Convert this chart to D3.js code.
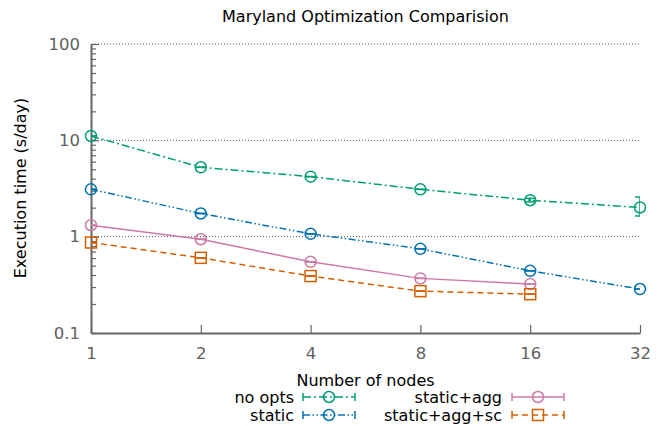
<!DOCTYPE html>
<html>
<head>
<meta charset="utf-8">
<script src="https://cdn.jsdelivr.net/npm/d3@7"></script>
<style>
  body { margin: 0; background: #fff; }
  svg { font-family: "DejaVu Sans", sans-serif; }
</style>
</head>
<body>
<div id="chart"></div>
<script>
// Data (execution time in s/day vs number of nodes)
const nodes = [1, 2, 4, 8, 16, 32];
const noOpts = [11.1, 5.25, 4.2, 3.1, 2.39, 2.01];
const noOptsLo = [11.1, 5.25, 4.2, 3.1, 2.3, 1.64];
const noOptsHi = [11.1, 5.25, 4.2, 3.1, 2.5, 2.58];
const staticOnly = [3.1, 1.74, 1.07, 0.748, 0.442, 0.286];
const staticAgg = [1.315, 0.94, 0.548, 0.369, 0.322];
const staticAggSc = [0.87, 0.603, 0.39, 0.272, 0.253];
const seriesNames = ["no opts", "static", "static+agg", "static+agg+sc"];
const yTicks = [0.1, 1, 10, 100];
const gridTicks = [1, 10, 100];

const W = 665, H = 426;
const margin = {top: 44, right: 25, bottom: 93, left: 91};

const svg = d3.select("#chart")
    .append("svg")
    .attr("width", W)
    .attr("height", H);

const x = d3.scaleLog().base(2)
    .domain([1, 32])
    .range([margin.left, W - margin.right]);
const y = d3.scaleLog()
    .domain([0.1, 100])
    .range([H - margin.bottom, margin.top]);

// series table built from the arrays
const series = [
  {name: seriesNames[0], vals: noOpts, lo: noOptsLo, hi: noOptsHi, color: "#009e73", dash: "8,3,2,3", mark: "circle"},
  {name: seriesNames[1], vals: staticOnly, lo: staticOnly, hi: staticOnly, color: "#0072b2", dash: "7,2.5,1.5,2.5,1.5,2.5", mark: "circle"},
  {name: seriesNames[2], vals: staticAgg, lo: staticAgg, hi: staticAgg, color: "#cc79a7", dash: null, mark: "circle"},
  {name: seriesNames[3], vals: staticAggSc, lo: staticAggSc, hi: staticAggSc, color: "#d55e00", dash: "6,4", mark: "square"}
];
series.forEach(s => {
  s.points = s.vals.map((v, i) => ({n: nodes[i], v: v, lo: s.lo[i], hi: s.hi[i]}));
});

// clip for error bars
svg.append("clipPath").attr("id", "plotclip")
  .append("rect")
  .attr("x", x(1)).attr("y", y(100) - 2)
  .attr("width", x(32) - x(1)).attr("height", y(0.1) - y(100) + 4);

// grid lines (dotted)
svg.append("g")
  .selectAll("line")
  .data(gridTicks)
  .join("line")
  .attr("x1", x(1) + 1)
  .attr("x2", x(32))
  .attr("y1", d => y(d))
  .attr("y2", d => y(d))
  .attr("stroke", "#555")
  .attr("stroke-width", 1)
  .attr("stroke-dasharray", "1,2");

// Y axis, major ticks pointing inward
svg.append("g")
  .attr("transform", `translate(${x(1)},0)`)
  .call(d3.axisLeft(y).tickValues(yTicks).tickFormat(d => String(d)).tickSizeInner(-8).tickSizeOuter(0).tickPadding(11));

// minor ticks on Y
const minor = [];
[0.1, 1, 10].forEach(dec => { for (let k = 2; k <= 9; k++) minor.push(dec * k); });
svg.append("g")
  .attr("transform", `translate(${x(1)},0)`)
  .call(d3.axisLeft(y).tickValues(minor).tickFormat("").tickSizeInner(-5).tickSizeOuter(0))
  .call(g => g.select(".domain").remove());

// X axis
svg.append("g")
  .attr("transform", `translate(0,${y(0.1)})`)
  .call(d3.axisBottom(x).tickValues(nodes).tickFormat(d => String(d)).tickSizeInner(-8).tickSizeOuter(0).tickPadding(14));

svg.selectAll(".domain").attr("stroke", "#666").attr("stroke-width", 2);
svg.selectAll(".tick line").attr("stroke", "#666").attr("stroke-width", 1.2);
svg.selectAll(".tick text")
  .attr("fill", "#606060")
  .style("font-size", "16.5px")
  .style("font-family", "DejaVu Sans, sans-serif");

// Lines
const line = d3.line().x(d => x(d.n)).y(d => y(d.v));
series.forEach(s => {
  svg.append("path")
    .datum(s.points)
    .attr("fill", "none")
    .attr("stroke", s.color)
    .attr("stroke-width", 1.5)
    .attr("stroke-dasharray", s.dash)
    .attr("d", line);
});

// error bars (clipped to plot area)
const cap = 5;
series.forEach(s => {
  const g = svg.append("g").attr("clip-path", "url(#plotclip)")
    .attr("stroke", s.color).attr("stroke-width", 1.5).attr("fill", "none");
  s.points.forEach(p => {
    const px = x(p.n);
    g.append("line").attr("x1", px).attr("x2", px).attr("y1", y(p.lo)).attr("y2", y(p.hi));
    g.append("line").attr("x1", px - cap).attr("x2", px + cap).attr("y1", y(p.lo)).attr("y2", y(p.lo));
    g.append("line").attr("x1", px - cap).attr("x2", px + cap).attr("y1", y(p.hi)).attr("y2", y(p.hi));
  });
});

// markers
function drawMark(g, s, cx, cy) {
  if (s.mark === "square") {
    g.append("rect")
      .attr("x", cx - 5.5).attr("y", cy - 5.5)
      .attr("width", 11).attr("height", 11)
      .attr("fill", "none").attr("stroke", s.color).attr("stroke-width", 1.5);
  } else {
    g.append("circle")
      .attr("cx", cx).attr("cy", cy).attr("r", 5.5)
      .attr("fill", "none").attr("stroke", s.color).attr("stroke-width", 1.5);
  }
}
series.forEach(s => {
  const g = svg.append("g");
  s.points.forEach(p => drawMark(g, s, x(p.n), y(p.v)));
});

// Title
svg.append("text")
  .attr("x", (x(1) + x(32)) / 2)
  .attr("y", 22)
  .attr("text-anchor", "middle")
  .style("font-size", "16px")
  .attr("fill", "#000")
  .text("Maryland Optimization Comparision");

// Y label
svg.append("text")
  .attr("transform", "rotate(-90)")
  .attr("x", -188)
  .attr("y", 20)
  .attr("dy", "0.35em")
  .attr("text-anchor", "middle")
  .style("font-size", "16px")
  .attr("fill", "#000")
  .text("Execution time (s/day)");

// X label
svg.append("text")
  .attr("x", (x(1) + x(32)) / 2)
  .attr("y", 386)
  .attr("text-anchor", "middle")
  .style("font-size", "16px")
  .attr("fill", "#000")
  .text("Number of nodes");

// Legend: two columns, two rows
const legendPos = [
  {tx: 294, sx: 303, sy: 397},
  {tx: 294, sx: 303, sy: 415},
  {tx: 502, sx: 512, sy: 397},
  {tx: 502, sx: 512, sy: 415}
];
const sampleLen = 52;
series.forEach((s, i) => {
  const p = legendPos[i];
  const g = svg.append("g");
  g.append("text")
    .attr("x", p.tx).attr("y", p.sy)
    .attr("dy", "0.35em")
    .attr("text-anchor", "end")
    .style("font-size", "16px")
    .attr("fill", "#000")
    .text(s.name);
  g.append("line")
    .attr("x1", p.sx).attr("x2", p.sx + sampleLen)
    .attr("y1", p.sy).attr("y2", p.sy)
    .attr("stroke", s.color).attr("stroke-width", 1.5)
    .attr("stroke-dasharray", s.dash);
  [p.sx, p.sx + sampleLen].forEach(ex => {
    g.append("line")
      .attr("x1", ex).attr("x2", ex)
      .attr("y1", p.sy - 4).attr("y2", p.sy + 4)
      .attr("stroke", s.color).attr("stroke-width", 1.5);
  });
  drawMark(g, s, p.sx + sampleLen / 2, p.sy);
});
</script>
</body>
</html>
